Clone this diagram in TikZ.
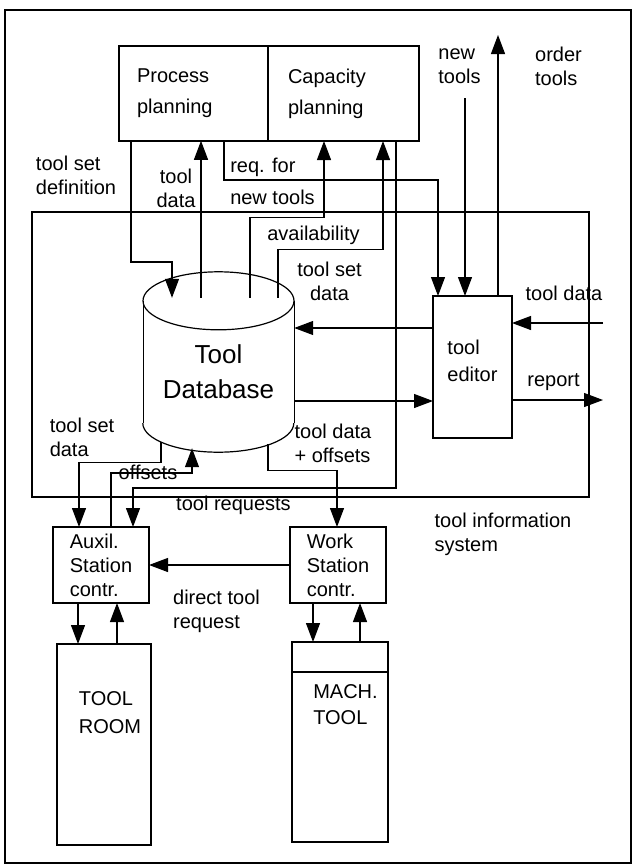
\documentclass[tikz,border=0pt]{standalone}
\usepackage{fontspec}
\setmainfont{Liberation Sans}
\usetikzlibrary{arrows.meta,positioning,calc}
\tikzset{
  box/.style={
    draw, line width=1.8pt, inner sep=0pt, outer sep=0pt,
    font=\fontsize{20}{24}\selectfont,
  },
  arrow/.style={-{Triangle[length=19pt,width=14pt]}, line width=1.2pt},
  lbl/.style={font=\fontsize{20}{24}\selectfont, inner sep=0pt},
}

\begin{document}
\begin{tikzpicture}[x=1pt, y=-1pt]
  \useasboundingbox (0,0) rectangle (632,865);

  \node[draw, line width=1.5pt, minimum width=626pt, minimum height=853pt] (frame) at (318,436.5) {};
  \node[draw, line width=1.3pt, minimum width=557pt, minimum height=285pt] (tis) at (310.5,354.5) {};

  \node[box, text width=113pt, inner xsep=18pt, minimum height=95pt, align=left] (proc)
    at (193.5,93.5) {Process\\[7pt]planning};
  \node[box, text width=111pt, inner xsep=20pt, minimum height=95pt, align=left,
        right=0pt of proc] (cap) {Capacity\\[7pt]planning};

  \node[lbl, font=\fontsize{26}{35}\selectfont, align=center, minimum width=151pt,
        minimum height=148pt] (db) at (218.5,372) {Tool\\Database};
  \draw[line width=1.2pt] ($(db.north)+(0,3)$) ellipse [x radius=75.5pt, y radius=29pt];
  \draw[line width=0.6pt] ($(db.north west)+(0,3)$) -- ($(db.south west)+(0,-23)$);
  \draw[line width=0.6pt] ($(db.north east)+(0,3)$) -- ($(db.south east)+(0,-23)$);
  \draw[line width=1.2pt] ($(db.south west)+(0,-23)$)
    arc[start angle=180, end angle=360, x radius=75.5pt, y radius=29pt];

  \node[box, line width=2.2pt, minimum width=79pt, minimum height=142pt, align=left,
        text depth=12pt] (editor) at (472.5,367) {tool\\[3pt]editor};

  \node[box, minimum width=96pt, minimum height=76pt, align=left] (aux)
    at (101,565) {Auxil.\\Station\\contr.};
  \node[box, minimum width=96pt, minimum height=76pt, align=left,
        right=141pt of aux] (ws) {Work\\Station\\contr.};
  \node[box, minimum width=94pt, minimum height=201pt] (troom) at (104,744.5) {};
  \node[box, minimum width=96pt, minimum height=200pt] (mach) at (340,742) {};
  \draw[line width=1.2pt] ($(mach.north west)+(0,30)$) -- ($(mach.north east)+(0,30)$);

  % labels
  \node[lbl, align=left] (tsdef) at (76,175) {tool set\\definition};
  \node[lbl, align=center] (tdat) at (176,188.5) {tool\\data};
  \node[lbl, align=left] (reqnew) at (272.5,181) {req. for\\[8pt]new tools};
  \node[lbl] (avail) at (313.5,235) {availability};
  \node[lbl, align=center] (tsdat) at (329.5,281) {tool set\\data};
  \node[lbl, align=left] (newt) at (459.5,66.5) {new\\tools};
  \node[lbl, align=left] (ordt) at (558.5,66.5) {order\\tools};
  \node[lbl] (tdatr) at (564,293) {tool data};
  \node[lbl] (rep) at (553.5,382) {report};
  \node[lbl, align=left] (tsdatlow) at (82,437) {tool set\\data};
  \node[lbl, align=left] (tdoff) at (333,443) {tool data\\+ offsets};
  \node[lbl] (offs) at (148,472) {offsets};
  \node[lbl] (treq) at (233.5,505) {tool requests};
  \node[lbl, align=left] (tinfo) at (503,534.5) {tool information\\system};
  \node[lbl, align=left] (dreq) at (216.5,611) {direct tool\\request};
  \node[lbl, align=left] (troomtxt) at (110,713) {TOOL\\[4pt]ROOM};
  \node[lbl, align=left] (machtxt) at (345.5,705) {MACH.\\[2pt]TOOL};

  \coordinate (ordtop) at (498,35);
  \coordinate (tdin) at (603,323);
  \coordinate (rpt) at (603,400);

  % planning <-> database / editor
  \draw[arrow] ($(proc.south west)+(12,0)$) -- ++(0,121) -| ($(db.north)+(-46.5,0)$);
  \draw[arrow] ($(db.north)+(-17.5,0)$) -- ++(0,-157);
  \draw[arrow] ($(proc.south west)+(105,0)$) -- ++(0,39) -| ($(editor.north west)+(5,0)$);
  \draw[arrow] ($(db.north)+(31.5,0)$) -- ++(0,-80) -| ($(cap.south west)+(56,0)$);
  \draw[arrow] ($(db.north)+(59.5,0)$) -- ++(0,-48) -| ($(cap.south west)+(115,0)$);
  \draw[arrow] ($(cap.south west)+(128,0)$) -- ++(0,347) -| ($(aux.north west)+(80,0)$);

  % tool editor
  \draw[arrow] ($(editor.north west)+(32,-198)$) -- ($(editor.north west)+(32,0)$);
  \draw[arrow] ($(editor.north west)+(65,0)$) -- (ordtop);
  \draw[arrow] ($(editor.west)+(0,-39)$) -- ($(db.east)+(0,-44)$);
  \draw[arrow] ($(db.east)+(0,29)$) -- ($(editor.west)+(0,34)$);
  \draw[arrow] (tdin) -- ($(editor.east)+(0,-44)$);
  \draw[arrow] ($(editor.east)+(0,33)$) -- (rpt);

  % database <-> stations
  \draw[arrow] ($(db.south)+(-57.5,-4)$) -- ++(0,20) -| ($(aux.north west)+(26,0)$);
  \draw[arrow] ($(aux.north west)+(58,0)$) -- ++(0,-54) -| ($(db.south)+(-26.5,2)$);
  \draw[arrow] ($(db.south)+(49.5,-2)$) -- ++(0,26) -| ($(ws.north west)+(47,0)$);

  \draw[arrow] (ws.west) -- (aux.east);
  \draw[arrow] ($(aux.south west)+(25,0)$) -- ($(troom.north west)+(21,0)$);
  \draw[arrow] ($(troom.north west)+(60,0)$) -- ($(aux.south west)+(64,0)$);
  \draw[arrow] ($(ws.south west)+(23,0)$) -- ($(mach.north west)+(21,0)$);
  \draw[arrow] ($(mach.north west)+(68,0)$) -- ($(ws.south west)+(70,0)$);

\end{tikzpicture}
\end{document}
